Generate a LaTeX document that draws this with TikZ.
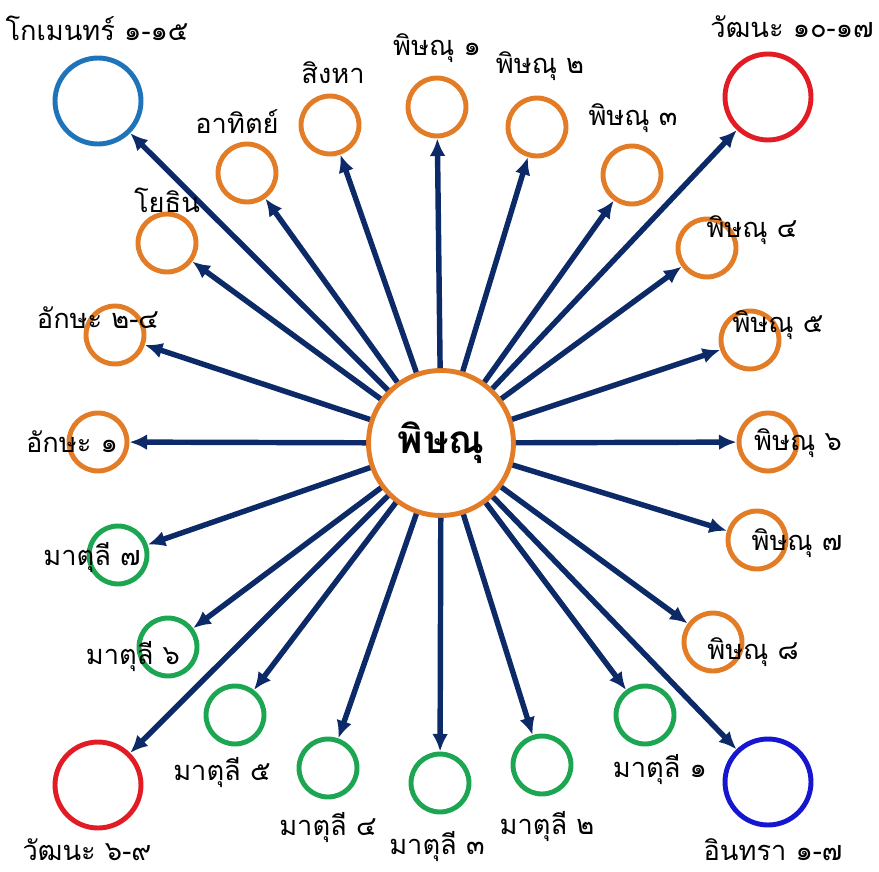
\documentclass[tikz,border=0pt]{standalone}
\usepackage{fontspec}
\newfontfamily\thaifont[Script=Thai]{Loma}
\usetikzlibrary{shapes,arrows.meta}
\definecolor{navy}{RGB}{13,42,104}
\definecolor{ornge}{RGB}{226,124,38}
\definecolor{grn}{RGB}{28,166,82}
\definecolor{stblue}{RGB}{30,115,185}
\definecolor{rd}{RGB}{226,28,36}
\definecolor{pblue}{RGB}{22,22,208}

\begin{document}
\begin{tikzpicture}[x=0.02cm,y=-0.02cm,
	ring/.style={circle,draw,line width=2.8pt,minimum size=1.16cm,inner sep=0pt},
	big/.style={ring,minimum size=1.72cm},
	lab/.style={font=\thaifont\fontsize{15.5}{17}\selectfont,inner sep=0pt},
	arr/.style={-{Latex[length=10pt,width=9pt]},navy,line width=3.1pt}]
			\useasboundingbox (0,0) rectangle (879,872);
			% centre
			\node[ring,ornge,minimum size=2.9cm,text=black,font=\thaifont\bfseries\fontsize{22}{24}\selectfont] (c) at (441,443) {พิษณุ};
			% top
			\node[big,stblue] (ko) at (98,101) {};
			\node[ring,ornge] (yo) at (167,243) {};
			\node[ring,ornge] (at) at (247,173) {};
			\node[ring,ornge] (si) at (330,125) {};
			\node[ring,ornge] (p1) at (437,107) {};
			\node[ring,ornge] (p2) at (537,127) {};
			\node[ring,ornge] (p3) at (632,175) {};
			\node[big,rd] (w10) at (768,97) {};
			% right
			\node[ring,ornge] (p4) at (707,248) {};
			\node[ring,ornge] (p5) at (750,340) {};
			\node[ring,ornge] (p6) at (768,442) {};
			\node[ring,ornge] (p7) at (757,540) {};
			\node[ring,ornge] (p8) at (713,642) {};
			\node[big,pblue] (ind) at (768,782) {};
			% bottom
			\node[ring,grn] (m1) at (645,715) {};
			\node[ring,grn] (m2) at (542,765) {};
			\node[ring,grn] (m3) at (440,783) {};
			\node[ring,grn] (m4) at (328,768) {};
			\node[ring,grn] (m5) at (235,715) {};
			\node[ring,grn] (m6) at (168,647) {};
			\node[big,rd] (w6) at (98,785) {};
			% left
			\node[ring,grn] (m7) at (118,555) {};
			\node[ring,ornge] (a1) at (98,442) {};
			\node[ring,ornge] (a24) at (115,335) {};

			\foreach \n in {ko,yo,at,si,p1,p2,p3,w10,p4,p5,p6,p7,p8,ind,m1,m2,m3,m4,m5,m6,w6,m7,a1,a24}
				\draw[arr] (c) -- (\n);

			% labels
			\node[lab] (lko) at (97,28) {โกเมนทร์ ๑-๑๕};
			\node[lab] (lyo) at (167,200) {โยธิน};
			\node[lab] (lat) at (237,122) {อาทิตย์};
			\node[lab] (lsi) at (333,73) {สิงหา};
			\node[lab] (lp1) at (437,48) {พิษณุ ๑};
			\node[lab] (lp2) at (540,66) {พิษณุ ๒};
			\node[lab] (lp3) at (633,118) {พิษณุ ๓};
			\node[lab] (lw10) at (792,27) {วัฒนะ ๑๐-๑๗};
			\node[lab] (lp4) at (752,230) {พิษณุ ๔};
			\node[lab] (lp5) at (778,325) {พิษณุ ๕};
			\node[lab] (lp6) at (798,443) {พิษณุ ๖};
			\node[lab] (lp7) at (797,543) {พิษณุ ๗};
			\node[lab] (lp8) at (753,652) {พิษณุ ๘};
			\node[lab] (lind) at (773,850) {อินทรา ๑-๗};
			\node[lab] (lm1) at (660,770) {มาตุลี ๑};
			\node[lab] (lm2) at (547,827) {มาตุลี ๒};
			\node[lab] (lm3) at (437,847) {มาตุลี ๓};
			\node[lab] (lm4) at (328,828) {มาตุลี ๔};
			\node[lab] (lm5) at (222,773) {มาตุลี ๕};
			\node[lab] (lm6) at (133,657) {มาตุลี ๖};
			\node[lab] (lw6) at (87,850) {วัฒนะ ๖-๙};
			\node[lab] (lm7) at (92,558) {มาตุลี ๗};
			\node[lab] (la1) at (72,442) {อักษะ ๑};
			\node[lab] (la24) at (98,318) {อักษะ ๒-๔};
\end{tikzpicture}
\end{document}
